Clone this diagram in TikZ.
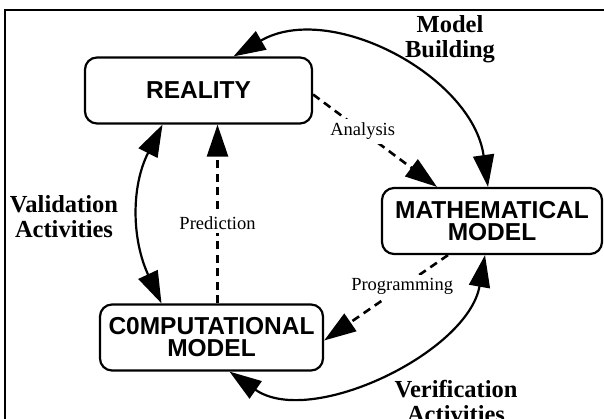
\documentclass[tikz,border=0pt]{standalone}
\usepackage{fontspec}
\setmainfont{Liberation Serif}
\newfontfamily\boxfont{Liberation Sans}
\usetikzlibrary{arrows.meta}

\tikzset{
  block/.style={draw, line width=2.2pt, rounded corners=12pt, align=center,
    inner sep=0pt, minimum height=66pt,
    font=\boxfont\bfseries\fontsize{24.5}{22}\selectfont},
  loopline/.style={line width=2.2pt,
    {Triangle[length=32pt,width=21pt]}-{Triangle[length=32pt,width=21pt]}},
  flow/.style={line width=2.6pt, dash pattern=on 8pt off 5.5pt,
    -{Triangle[length=32pt,width=21pt]}},
  flowlabel/.style={fill=white, inner sep=4pt, font=\fontsize{18.5}{20}\selectfont},
  sidelabel/.style={align=center, font=\bfseries\fontsize{24.5}{25}\selectfont},
}

\begin{document}
\begin{tikzpicture}[x=1pt, y=1pt]
  \useasboundingbox (0,0) rectangle (604,419);
  % frame, open at right and bottom
  \draw[line width=1.6pt] (5,-10) -- (5,409) -- (620,409);

  \node[block, minimum width=227pt] (reality) at (198.5,328.5) {REALITY};
  \node[block, minimum width=220pt] (math) at (492,198) {MATHEMATICAL\\MODEL};
  \node[block, minimum width=223pt] (comp) at (211.5,81.5) {C0MPUTATIONAL\\MODEL};

  % the three activities round the loop
  \draw[loopline] ([xshift=-4pt]math.north) to[out=98,in=30]
      ([xshift=35pt]reality.north);
  \draw[loopline] ([xshift=-36pt]reality.south) to[out=243,in=115]
      ([xshift=-50pt]comp.north);
  \draw[loopline] ([xshift=18pt]comp.south) to[out=-35,in=260,looseness=0.9]
      ([xshift=-7pt]math.south);

  % dashed steps
  \draw[flow] ([yshift=-4pt]reality.east) -- node[flowlabel, pos=0.4] (analysis) {Analysis}
      ([xshift=-55pt]math.north);
  \draw[flow] ([xshift=6pt]comp.north) -- node[flowlabel, pos=0.45] (prediction) {Prediction}
      ([xshift=6pt]comp.north |- reality.south);
  \draw[flow] ([xshift=-44pt]math.south) -- node[flowlabel, pos=0.37] (programming) {Programming}
      ([yshift=-3pt]comp.east);

  \node[sidelabel] (building) at (450,380) {Model\\Building};
  \node[sidelabel] (validation) at (64,202) {Validation\\Activities};
  \node[sidelabel] (verification) at (456,18) {Verification\\Activities};
\end{tikzpicture}
\end{document}
